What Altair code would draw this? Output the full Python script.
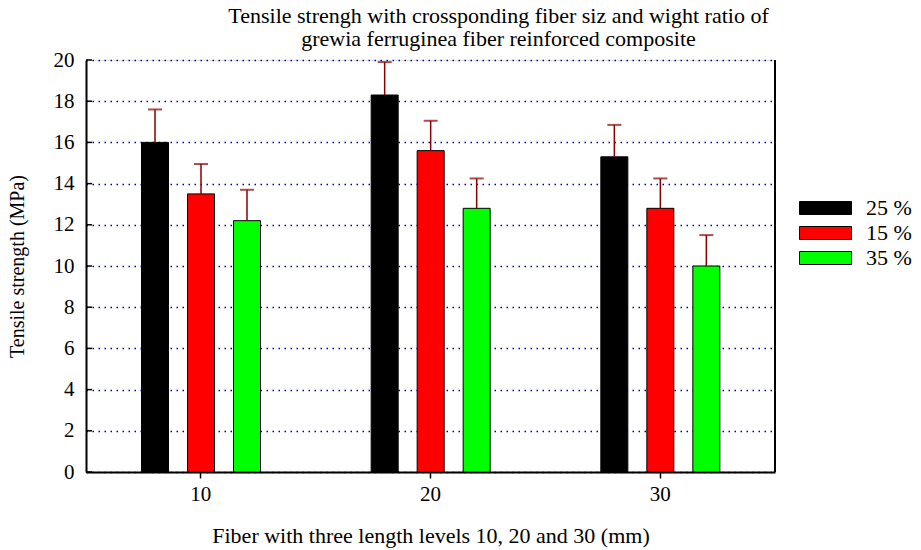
import altair as alt
import pandas as pd

lengths = ["10", "20", "30"]
ratios = ["25 %", "15 %", "35 %"]
colors = ["#000000", "#ff0000", "#00ff00"]
strength = {
    "25 %": [16.0, 18.3, 15.3],
    "15 %": [13.5, 15.6, 12.8],
    "35 %": [12.2, 12.8, 10.0],
}
errors = {
    "25 %": [1.6, 1.6, 1.55],
    "15 %": [1.45, 1.45, 1.45],
    "35 %": [1.5, 1.45, 1.5],
}
y_ticks = [0, 2, 4, 6, 8, 10, 12, 14, 16, 18, 20]

rows = []
for r in ratios:
    for i, L in enumerate(lengths):
        v = strength[r][i]
        rows.append({"length": L, "ratio": r, "value": v, "top": v + errors[r][i]})
df = pd.DataFrame(rows)
ticks_df = pd.DataFrame({"t": y_ticks})

W, H = 689, 412
serif = "Liberation Serif"

x_enc = alt.X("length:N", sort=lengths,
              scale=alt.Scale(paddingInner=0, paddingOuter=0),
              axis=alt.Axis(title="Fiber with three length levels 10, 20 and 30 (mm)",
                            labelAngle=0, labelFontSize=21, labelPadding=5,
                            titleFontSize=22, titlePadding=21,
                            tickSize=6, tickColor="black", tickWidth=1.5,
                            domainColor="black", domainWidth=2, grid=False))
xo_enc = alt.XOffset("ratio:N", sort=ratios,
                     scale=alt.Scale(paddingInner=0.413, paddingOuter=0, range=[55.5, 174.5]))
y_scale = alt.Scale(domain=[0, 20], nice=False, zero=True)

bars = alt.Chart(df).mark_bar(stroke="black", strokeWidth=1).encode(
    x=x_enc,
    xOffset=xo_enc,
    y=alt.Y("value:Q", scale=y_scale,
            axis=alt.Axis(title="Tensile strength (MPa)", values=y_ticks,
                          labelFontSize=21, labelPadding=12, tickSize=0,
                          titleFontSize=20, titlePadding=26,
                          domainColor="black", domainWidth=2,
                          grid=True, gridColor="#0000a0", gridDash=[1.5, 4.5],
                          gridWidth=1.5)),
    color=alt.Color("ratio:N", sort=ratios,
                    scale=alt.Scale(domain=ratios, range=colors),
                    legend=alt.Legend(title=None, orient="none", legendX=728.5, legendY=137,
                                      symbolType="M-4,-1H4V1H-4Z", symbolSize=169,
                                      symbolStrokeColor="black", symbolStrokeWidth=1,
                                      labelFont=serif, labelFontSize=22, labelColor="black",
                                      labelExpr="datum.label == '35 %' ? '\u00a035 %' : datum.label",
                                      labelOffset=29.5, rowPadding=3)),
)

err = alt.Chart(df).mark_rule(color="#8b0000", strokeWidth=1.5).encode(
    x=alt.X("length:N", sort=lengths),
    xOffset=alt.XOffset("ratio:N", sort=ratios),
    y=alt.Y("value:Q"),
    y2="top:Q",
)
caps = alt.Chart(df).mark_tick(color="#8b0000", thickness=2, size=14, orient="horizontal").encode(
    x=alt.X("length:N", sort=lengths),
    xOffset=alt.XOffset("ratio:N", sort=ratios),
    y=alt.Y("top:Q"),
)
yticks = alt.Chart(ticks_df).mark_rule(color="black", strokeWidth=1.5).encode(
    x=alt.value(0), x2=alt.value(6), y=alt.Y("t:Q"),
)
right = alt.Chart(ticks_df).mark_rule(color="black", strokeWidth=2).encode(
    x=alt.value(W), y=alt.value(0), y2=alt.value(H),
)

chart = alt.layer(bars, err, caps, yticks, right).properties(
    width=W, height=H,
    title=alt.TitleParams(
        text=["Tensile strengh with crossponding fiber siz and wight ratio of",
              "grewia ferruginea fiber reinforced composite"],
        font=serif, fontSize=22, fontWeight="normal", color="black",
        anchor="middle", dx=68, dy=10, offset=8, lineHeight=23),
    autosize=alt.AutoSizeParams(type="none"),
    padding={"left": 86, "top": 60, "right": 146, "bottom": 78},
).configure_view(stroke=None).configure(background="white").configure_axis(
    labelFont=serif, titleFont=serif, labelColor="black", titleColor="black",
    titleFontWeight="normal",
)

chart.save("out.html", embed_options={"renderer": "svg", "actions": False})
